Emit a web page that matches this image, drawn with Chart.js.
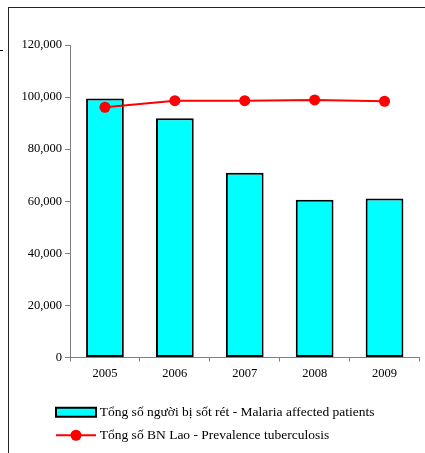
<!DOCTYPE html>
<html><head><meta charset="utf-8">
<script src="https://cdn.jsdelivr.net/npm/chart.js@4"></script>
<style>
html,body{margin:0;padding:0;background:#fff;}
#wrap{position:relative;width:425px;height:453px;overflow:hidden;}
#frame{position:absolute;left:8px;top:7px;width:600px;height:600px;border:1px solid #222;box-sizing:border-box;}
#mark{position:absolute;left:0;top:50px;width:3px;height:1px;background:#000;}
canvas{position:absolute;left:0;top:0;}
</style></head>
<body>
<div id="wrap">
<div id="frame"></div>
<div id="mark"></div>
<canvas id="c" width="425" height="453"></canvas>
</div>
<script>
const years = ["2005","2006","2007","2008","2009"];
const malaria = [99500, 91900, 70900, 60600, 61100];
const tuberculosis = [96100, 98600, 98600, 98900, 98400];
const malariaLabel = "Tổng số người bị sốt rét - Malaria affected patients";
const tbLabel = "Tổng số BN Lao - Prevalence tuberculosis";
const yTicks = [0, 20000, 40000, 60000, 80000, 100000, 120000];

const TICKFONT = {family: "'Liberation Serif', 'Times New Roman', serif", size: 12.5};
const LEGFONT = {family: "'Liberation Serif', 'Times New Roman', serif", size: 13.5};

const legendShiftPlugin = {
  id: 'legendShift',
  afterLayout(chart) {
    if (chart.legend) { chart.legend.left += 32.5; }
  }
};

const legendMarkerPlugin = {
  id: 'legendMarker',
  afterDraw(chart) {
    const lg = chart.legend;
    if (!lg || !lg.legendHitBoxes || lg.legendHitBoxes.length < 2) return;
    const ctx = chart.ctx;
    ctx.save();
    // bar marker
    const h0 = lg.legendHitBoxes[0];
    const y0 = h0.top + h0.height / 2;
    ctx.fillStyle = '#00ffff';
    ctx.strokeStyle = '#000';
    ctx.lineWidth = 2;
    ctx.fillRect(h0.left, y0 - 4.5, 40, 9);
    ctx.strokeRect(h0.left, y0 - 4.5, 40, 9);
    // line marker
    const h1 = lg.legendHitBoxes[1];
    const y1 = h1.top + h1.height / 2;
    ctx.strokeStyle = '#ff0000';
    ctx.lineWidth = 2;
    ctx.beginPath();
    ctx.moveTo(h1.left, y1);
    ctx.lineTo(h1.left + 40, y1);
    ctx.stroke();
    ctx.fillStyle = '#ff0000';
    ctx.beginPath();
    ctx.arc(h1.left + 20, y1, 5.5, 0, Math.PI * 2);
    ctx.fill();
    ctx.restore();
  }
};

new Chart(document.getElementById('c'), {
  data: {
    labels: years,
    datasets: [
      {type: 'bar', label: malariaLabel, data: malaria, backgroundColor: '#00ffff',
       borderColor: '#000', borderWidth: 2, borderSkipped: false,
       barPercentage: 0.54, categoryPercentage: 1, order: 1},
      {type: 'line', label: tbLabel, data: tuberculosis, borderColor: '#ff0000',
       backgroundColor: '#ff0000', borderWidth: 2, pointRadius: 5.5, pointBorderWidth: 0,
       pointBackgroundColor: '#ff0000', tension: 0, order: 0}
    ]
  },
  options: {
    responsive: false,
    animation: false,
    layout: {padding: {left: 14, right: 2, top: 45, bottom: 1}},
    scales: {
      x: {
        grid: {display: true, drawOnChartArea: false, drawTicks: true, tickLength: 4, color: '#808080', offset: true},
        border: {display: true, color: '#808080', width: 1},
        ticks: {color: '#000', font: TICKFONT, padding: 5},
        afterFit(s) { s.height = 38.5; }
      },
      y: {
        min: 0, max: 120000,
        afterBuildTicks(s) { s.ticks = yTicks.map(v => ({value: v})); },
        grid: {display: true, drawOnChartArea: false, drawTicks: true, tickLength: 5, color: '#808080'},
        border: {display: true, color: '#808080', width: 1},
        ticks: {color: '#000', font: TICKFONT, padding: 3,
          callback: v => v.toLocaleString('en-US')},
        afterFit(s) { s.width = 56; }
      }
    },
    plugins: {
      tooltip: {enabled: false},
      legend: {
        position: 'bottom', align: 'start',
        labels: {
          font: LEGFONT, color: '#000', boxWidth: 37, boxHeight: 9, padding: 9.5,
          generateLabels(chart) {
            return chart.data.datasets.map((ds, i) => ({
              text: ds.label,
              fillStyle: 'rgba(0,0,0,0)',
              strokeStyle: 'rgba(0,0,0,0)',
              lineWidth: 0,
              hidden: false,
              datasetIndex: i,
              fontColor: '#000'
            }));
          }
        }
      }
    }
  },
  plugins: [legendShiftPlugin, legendMarkerPlugin]
});
</script>
</body></html>
